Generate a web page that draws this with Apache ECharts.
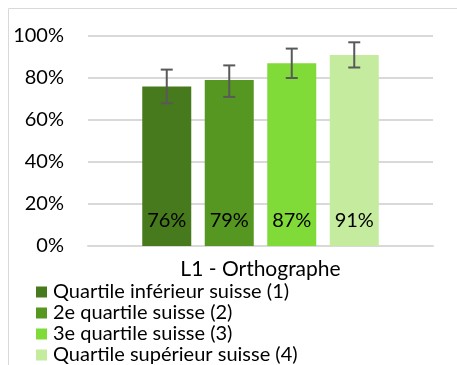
<!DOCTYPE html>
<html>
<head>
<meta charset="utf-8">
<script src="https://cdn.jsdelivr.net/npm/echarts@6/dist/echarts.min.js"></script>
<style>
  html, body { margin: 0; padding: 0; background: #ffffff; }
  #chart { width: 457px; height: 365px; }
</style>
</head>
<body>
<div id="chart"></div>
<script>
// Orthographe L1 results by Swiss quartile, with confidence intervals
const categories = ['L1 - Orthographe'];
const quartileNames = [
  'Quartile inférieur suisse (1)',
  '2e quartile suisse (2)',
  '3e quartile suisse (3)',
  'Quartile supérieur suisse (4)'
];
const quartileValues = [76, 79, 87, 91];
const errorLow = [68, 71, 80, 85];
const errorHigh = [84, 86, 94, 97];
const yTicks = [0, 20, 40, 60, 80, 100];

const colors = ['#477a1c', '#559721', '#80da37', '#c4eb9e'];
const FONT = 'Lato';
const BAR_WIDTH = 49;
const BAR_GAP_PX = 13.5;

const chart = echarts.init(document.getElementById('chart'), null, { renderer: 'canvas' });

const barSeries = quartileNames.map((name, i) => ({
  name: name,
  type: 'bar',
  barWidth: BAR_WIDTH,
  barGap: (BAR_GAP_PX / BAR_WIDTH * 100) + '%',
  itemStyle: { color: colors[i] },
  label: {
    show: true,
    position: 'insideBottom',
    distance: 15,
    formatter: '{c}%',
    color: '#000000',
    fontFamily: FONT,
    fontSize: 20
  },
  emphasis: { disabled: true },
  data: [quartileValues[i]]
}));

// one error bar per quartile, shifted to sit on its own bar
const errorData = quartileNames.map((_, i) => [0, errorLow[i], errorHigh[i], i]);

const errorSeries = {
  type: 'custom',
  silent: true,
  z: 5,
  data: errorData,
  renderItem: function (params, api) {
    const idx = api.value(3);
    const n = quartileNames.length;
    const step = BAR_WIDTH + BAR_GAP_PX;
    const offset = (idx - (n - 1) / 2) * step;
    const lo = api.coord([api.value(0), api.value(1)]);
    const hi = api.coord([api.value(0), api.value(2)]);
    const x = lo[0] + offset;
    const cap = 6;
    const style = { stroke: '#595959', lineWidth: 2, fill: null };
    return {
      type: 'group',
      children: [
        { type: 'line', shape: { x1: x, y1: hi[1], x2: x, y2: lo[1] }, style: style },
        { type: 'line', shape: { x1: x - cap, y1: hi[1], x2: x + cap, y2: hi[1] }, style: style },
        { type: 'line', shape: { x1: x - cap, y1: lo[1], x2: x + cap, y2: lo[1] }, style: style }
      ]
    };
  }
};

chart.setOption({
  animation: false,
  backgroundColor: '#ffffff',
  graphic: [{
    type: 'rect',
    shape: { x: 8.5, y: 8.5, width: 600, height: 500 },
    style: { fill: null, stroke: '#d9d9d9', lineWidth: 1 },
    silent: true,
    z: -10
  }],
  grid: { left: 88, right: 24, top: 36, bottom: 119 },
  legend: {
    type: 'plain',
    orient: 'vertical',
    left: 31,
    top: 277,
    height: 200,
    itemWidth: 11,
    itemHeight: 11,
    itemGap: 1,
    icon: 'rect',
    selectedMode: false,
    data: quartileNames,
    textStyle: { fontFamily: FONT, fontSize: 20, color: '#000000', padding: [0, 0, 0, 1] }
  },
  xAxis: {
    type: 'category',
    data: categories,
    axisLine: { show: true, lineStyle: { color: '#d9d9d9', width: 2 } },
    axisTick: { show: false },
    axisLabel: { margin: 13, color: '#000000', fontFamily: FONT, fontSize: 21 }
  },
  yAxis: {
    type: 'value',
    min: yTicks[0],
    max: yTicks[yTicks.length - 1],
    interval: yTicks[1] - yTicks[0],
    axisLine: { show: false },
    axisTick: { show: false },
    splitLine: { lineStyle: { color: '#d9d9d9', width: 2 } },
    axisLabel: { margin: 24, formatter: '{value}%', color: '#000000', fontFamily: FONT, fontSize: 20 }
  },
  series: barSeries.concat([errorSeries])
});
</script>
</body>
</html>
